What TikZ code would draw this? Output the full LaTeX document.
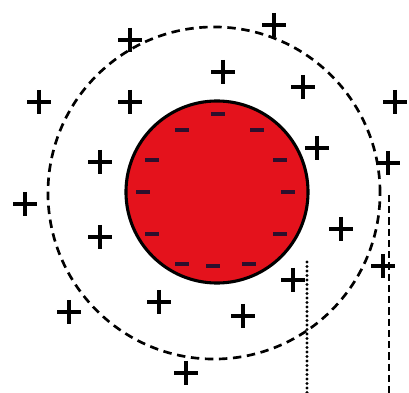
\documentclass[tikz,border=0pt]{standalone}
\usetikzlibrary{positioning}
\definecolor{sphereRed}{RGB}{228,18,28}
\definecolor{surfaceInk}{RGB}{45,15,45}

\begin{document}
\begin{tikzpicture}[x=0.025cm, y=-0.025cm,
    sphere/.style={circle, minimum size=4.55cm, draw=black, line width=2.2pt, fill=sphereRed},
    shell/.style={circle, minimum size=8.3cm, draw=black, line width=1.9pt,
                  dash pattern=on 6pt off 4pt},
    cation/.style={line width=2.3pt, black},
    anion/.style={line width=2.8pt, surfaceInk},
    guide/.style={line width=2.2pt, line cap=round, dash pattern=on 0pt off 3.2pt},
    marker/.style={line width=0.9pt, dash pattern=on 5pt off 3pt}]

    \useasboundingbox (0,0) rectangle (409,393);

    % outer shell (dashed)
    \node[shell] (outer) at (214,193) {};

    % charged sphere
    \node[sphere] (core) at (217,192) {};

    % negative charges on the surface
    \foreach \px/\py in {218/114, 182/130, 257/130, 152/160, 280/160, 143/192,
                         288/192, 152/234, 280/234, 182/264, 213/266, 249/264}
        \draw[anion] (\px-7,\py) -- (\px+7,\py);

    % positive charges around
    \foreach \px/\py in {130/40, 274/25, 223/72, 39/102, 130/102, 303/87,
                         395/102, 317/148, 388/163, 100/162, 25/204, 100/237,
                         341/229, 69/312, 383/266, 293/280, 159/302, 243/316,
                         186/373}
        \draw[cation] (\px-12,\py) -- (\px+12,\py) (\px,\py-12) -- (\px,\py+12);

    % vertical markers
    \coordinate (dotTop) at (307,262);
    \coordinate (dotEnd) at (307,393);
    \coordinate (dashTop) at (389,195);
    \coordinate (dashEnd) at (389,393);
    \draw[guide] (dotTop) -- (dotEnd);
    \draw[marker] (dashTop) -- (dashEnd);

\end{tikzpicture}
\end{document}
